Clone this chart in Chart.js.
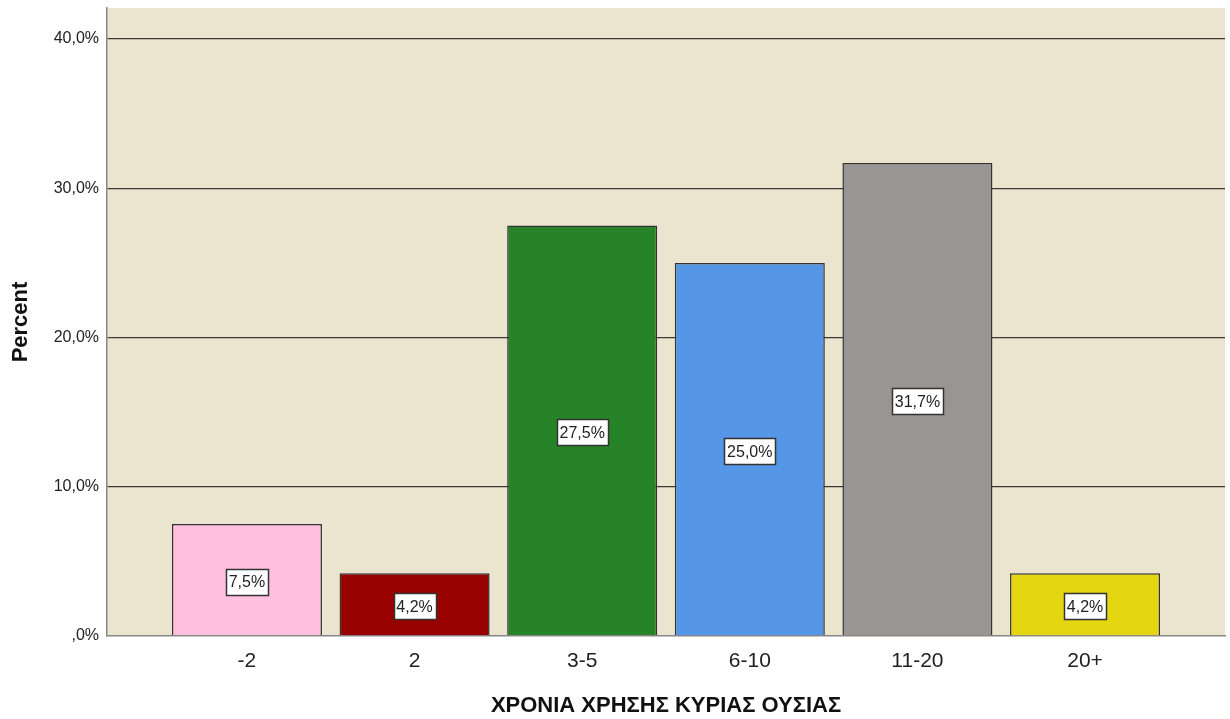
<!DOCTYPE html>
<html>
<head>
<meta charset="utf-8">
<script src="https://cdn.jsdelivr.net/npm/chart.js@4/dist/chart.umd.min.js"></script>
<style>
  html, body { margin: 0; padding: 0; background: #ffffff; }
  #wrap { width: 1230px; height: 719px; }
</style>
</head>
<body>
<div id="wrap"><canvas id="yearsChart" width="1230" height="719"></canvas></div>
<script>
const categories = ['-2', '2', '3-5', '6-10', '11-20', '20+'];
const percentValues = [7.5, 4.2, 27.5, 25.0, 31.7, 4.2];
const barColors = ['#ffbfdf', '#990000', '#278327', '#5596e6', '#989594', '#e4d611'];
const yTickValues = [0, 10, 20, 30, 40];

const FONT = '"Liberation Sans", Arial, sans-serif';

function fmtPct(v) {
    if (v === 0) return ',0%';
    return v.toFixed(1).replace('.', ',') + '%';
}

// plot background colour behind the bars
const plotBgPlugin = {
    id: 'plotBg',
    beforeDraw(chart) {
        const { ctx, chartArea: a } = chart;
        ctx.save();
        ctx.fillStyle = '#ebe4cf';
        ctx.fillRect(a.left, a.top, a.right - a.left, a.bottom - a.top);
        ctx.restore();
    }
};

// boxed value labels in the middle of each bar
const valueBoxPlugin = {
    id: 'valueBox',
    afterDatasetsDraw(chart) {
        const { ctx } = chart;
        const meta = chart.getDatasetMeta(0);
        ctx.save();
        ctx.font = '16px ' + FONT;
        ctx.textAlign = 'center';
        ctx.textBaseline = 'middle';
        meta.data.forEach((bar, i) => {
            const text = fmtPct(percentValues[i]);
            const w = Math.round(ctx.measureText(text).width + 6);
            const h = 26;
            const cx = bar.x;
            const cy = (bar.y + bar.base) / 2 + 2;
            const x0 = Math.round(cx - w / 2) + 0.5;
            const y0 = Math.round(cy - h / 2) + 0.5;
            ctx.fillStyle = '#ffffff';
            ctx.fillRect(x0, y0, w, h);
            ctx.strokeStyle = '#333333';
            ctx.lineWidth = 1.5;
            ctx.strokeRect(x0, y0, w, h);
            ctx.fillStyle = '#222222';
            ctx.fillText(text, cx, cy + 1);
        });
        ctx.restore();
    }
};

const ctx = document.getElementById('yearsChart').getContext('2d');

new Chart(ctx, {
    type: 'bar',
    data: {
        datasets: [{
            data: percentValues.map((v, i) => ({ x: i, y: v })),
            backgroundColor: barColors,
            borderColor: '#333333',
            borderWidth: 1.5,
            barPercentage: 0.895,
            categoryPercentage: 1.0
        }]
    },
    options: {
        responsive: false,
        animation: false,
        layout: { padding: { top: 8, right: 5, left: 0, bottom: 0 } },
        plugins: {
            legend: { display: false },
            tooltip: { enabled: false }
        },
        scales: {
            x: {
                type: 'linear',
                offset: false,
                min: -0.835,
                max: 5.835,
                afterBuildTicks(scale) {
                    scale.ticks = categories.map((c, i) => ({ value: i }));
                },
                afterFit(scale) {
                    scale.height = 83;
                    scale.paddingLeft = 0;
                    scale.paddingRight = 0;
                },
                grid: { display: false, drawTicks: false },
                border: { display: true, color: '#888888', width: 1.5 },
                ticks: {
                    autoSkip: false,
                    maxRotation: 0,
                    padding: 13,
                    color: '#222222',
                    font: { family: FONT, size: 21 },
                    callback: (v) => categories[v]
                },
                title: {
                    display: true,
                    text: 'ΧΡΟΝΙΑ ΧΡΗΣΗΣ ΚΥΡΙΑΣ ΟΥΣΙΑΣ',
                    color: '#111111',
                    font: { family: FONT, size: 22, weight: 'bold' },
                    padding: { top: 18, bottom: 0 }
                }
            },
            y: {
                min: 0,
                max: 42.08,
                afterBuildTicks(scale) {
                    scale.ticks = yTickValues.map(v => ({ value: v }));
                },
                afterFit(scale) {
                    scale.width = 107;
                    scale.paddingTop = 0;
                    scale.paddingBottom = 0;
                },
                grid: {
                    color: (c) => c.tick && c.tick.value === 0 ? 'rgba(0,0,0,0)' : '#3a3a35',
                    lineWidth: 1.3,
                    drawTicks: false
                },
                border: { display: true, color: '#888888', width: 1.5 },
                ticks: {
                    padding: 8,
                    color: '#222222',
                    font: { family: FONT, size: 16 },
                    callback: (v) => fmtPct(v)
                },
                title: {
                    display: true,
                    text: 'Percent',
                    color: '#111111',
                    font: { family: FONT, size: 22, weight: 'bold' },
                    padding: { top: 8, bottom: 0 }
                }
            }
        }
    },
    plugins: [plotBgPlugin, valueBoxPlugin]
});
</script>
</body>
</html>
